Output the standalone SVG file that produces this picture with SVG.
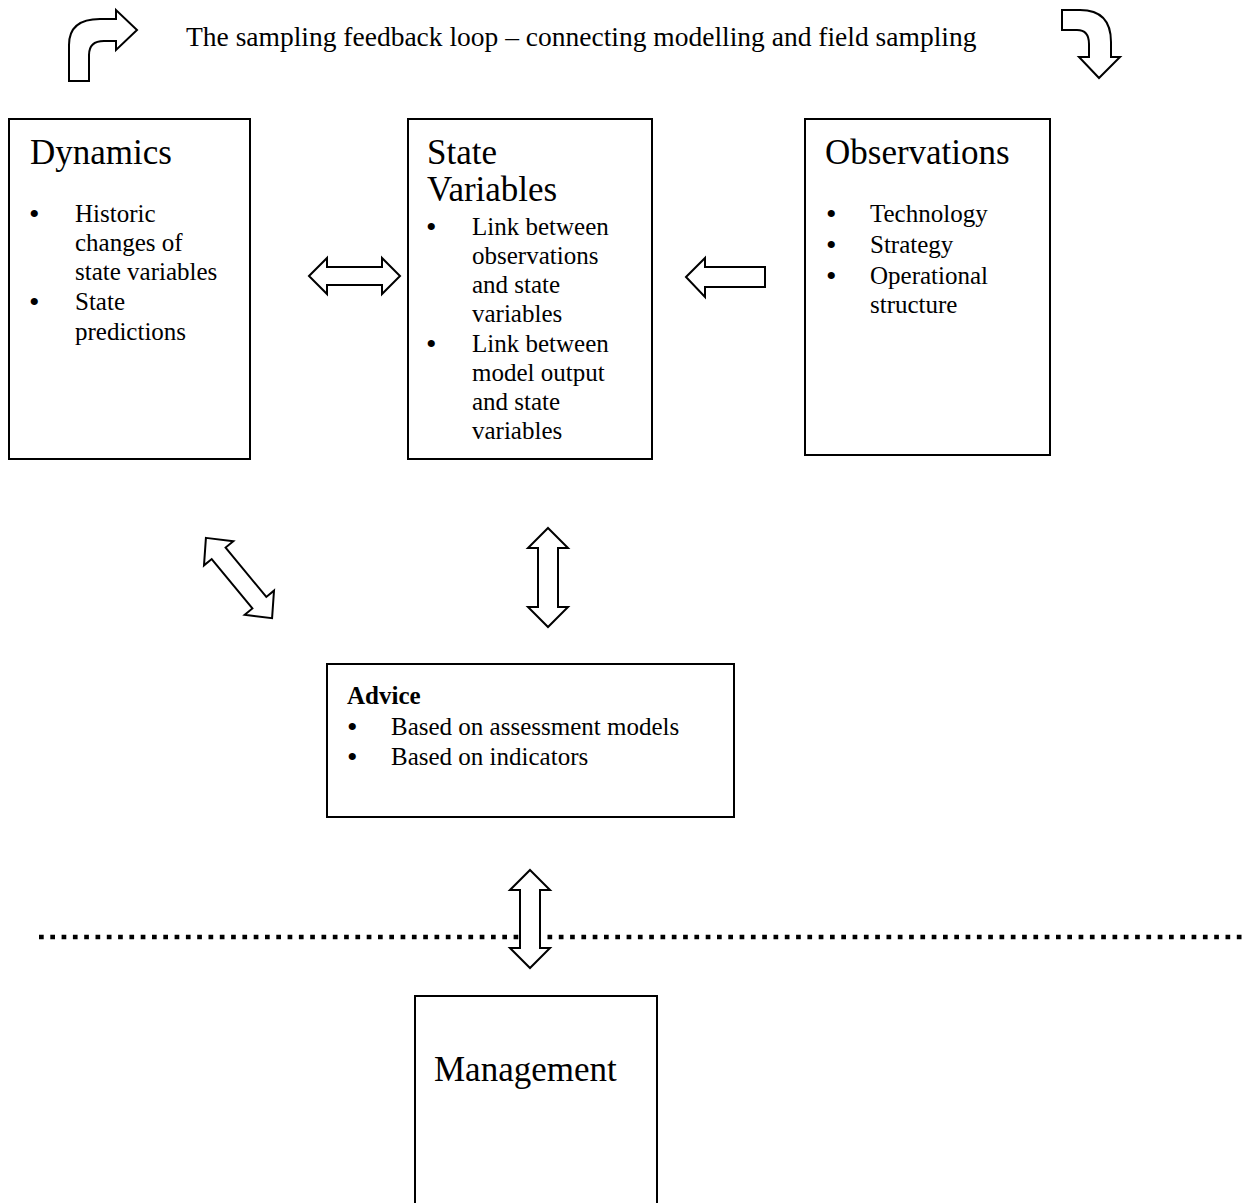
<svg xmlns="http://www.w3.org/2000/svg" width="1251" height="1203" viewBox="0 0 1251 1203">
<style>
.box{fill:#fff;stroke:#000;stroke-width:2}
.arr{fill:#fff;stroke:#000;stroke-width:2;stroke-linejoin:miter}
.h{font-family:"Liberation Serif","Times New Roman",serif;font-size:35px;fill:#000}
.t{font-family:"Liberation Serif","Times New Roman",serif;font-size:25px;fill:#000}
.bu{font-family:"Liberation Serif","Times New Roman",serif;font-size:30px;fill:#000}
.title{font-family:"Liberation Serif","Times New Roman",serif;font-size:27.5px;fill:#000}
.b{font-weight:bold}
</style>
<rect width="1251" height="1203" fill="#fff"/>
<text class="title" x="186" y="46">The sampling feedback loop – connecting modelling and field sampling</text>
<g id="loop-arrows">
<path class="arr" d="M69 81 L69 45 Q69 19 100 19 L116 19 L116 10 L137 30 L116 50 L116 41 L104 41 Q89 41 89 55 L89 81 Z"/>
<path class="arr" d="M1062 10 L1080 10 Q1111 10 1111 42 L1111 57 L1120 57 L1099 78 L1079 57 L1089 57 L1089 44 Q1089 30 1077 30 L1062 30 Z"/>
</g>
<g id="dynamics">
<rect class="box" x="9" y="119" width="241" height="340"/>
<text class="h" x="30" y="164">Dynamics</text>
<text class="bu" x="29" y="224">•</text><text class="t" x="75" y="222">Historic</text>
<text class="t" x="75" y="251">changes of</text>
<text class="t" x="75" y="280">state variables</text>
<text class="bu" x="29" y="312">•</text><text class="t" x="75" y="310">State</text>
<text class="t" x="75" y="340">predictions</text>
</g>
<g id="state-variables">
<rect class="box" x="408" y="119" width="244" height="340"/>
<text class="h" x="427" y="164">State</text>
<text class="h" x="427" y="201">Variables</text>
<text class="bu" x="426" y="237">•</text><text class="t" x="472" y="235">Link between</text>
<text class="t" x="472" y="264">observations</text>
<text class="t" x="472" y="293">and state</text>
<text class="t" x="472" y="322">variables</text>
<text class="bu" x="426" y="354">•</text><text class="t" x="472" y="352">Link between</text>
<text class="t" x="472" y="381">model output</text>
<text class="t" x="472" y="410">and state</text>
<text class="t" x="472" y="439">variables</text>
</g>
<g id="observations">
<rect class="box" x="805" y="119" width="245" height="336"/>
<text class="h" x="825" y="164">Observations</text>
<text class="bu" x="826" y="224">•</text><text class="t" x="870" y="222">Technology</text>
<text class="bu" x="826" y="255">•</text><text class="t" x="870" y="253">Strategy</text>
<text class="bu" x="826" y="286">•</text><text class="t" x="870" y="284">Operational</text>
<text class="t" x="870" y="313">structure</text>
</g>
<g id="advice">
<rect class="box" x="327" y="664" width="407" height="153"/>
<text class="t b" x="347" y="704">Advice</text>
<text class="bu" x="347" y="737">•</text><text class="t" x="391" y="735">Based on assessment models</text>
<text class="bu" x="347" y="767">•</text><text class="t" x="391" y="765">Based on indicators</text>
</g>
<g id="management">
<rect class="box" x="415" y="996" width="242" height="220"/>
<text class="h" x="434" y="1081">Management</text>
</g>
<line x1="39" y1="937" x2="1244" y2="937" stroke="#000" stroke-width="4.7" stroke-dasharray="4.7 6.6"/>
<g id="connectors">
<path class="arr" d="M309 276 L327 258 L327 267 L382 267 L382 258 L400 276 L382 294 L382 285 L327 285 L327 294 Z"/>
<path class="arr" d="M686 277 L705 258 L705 267 L765 267 L765 287 L705 287 L705 297 Z"/>
<path class="arr" transform="translate(239 578) rotate(50.5)" d="M-52 0 L-32 -19 L-32 -9 L32 -9 L32 -19 L52 0 L32 19 L32 9 L-32 9 L-32 19 Z"/>
<path class="arr" d="M548 528 L568 548 L558 548 L558 607 L568 607 L548 627 L528 607 L538 607 L538 548 L528 548 Z"/>
<path class="arr" d="M530 870 L550 890 L540 890 L540 948 L550 948 L530 968 L510 948 L520 948 L520 890 L510 890 Z"/>
</g>
</svg>
